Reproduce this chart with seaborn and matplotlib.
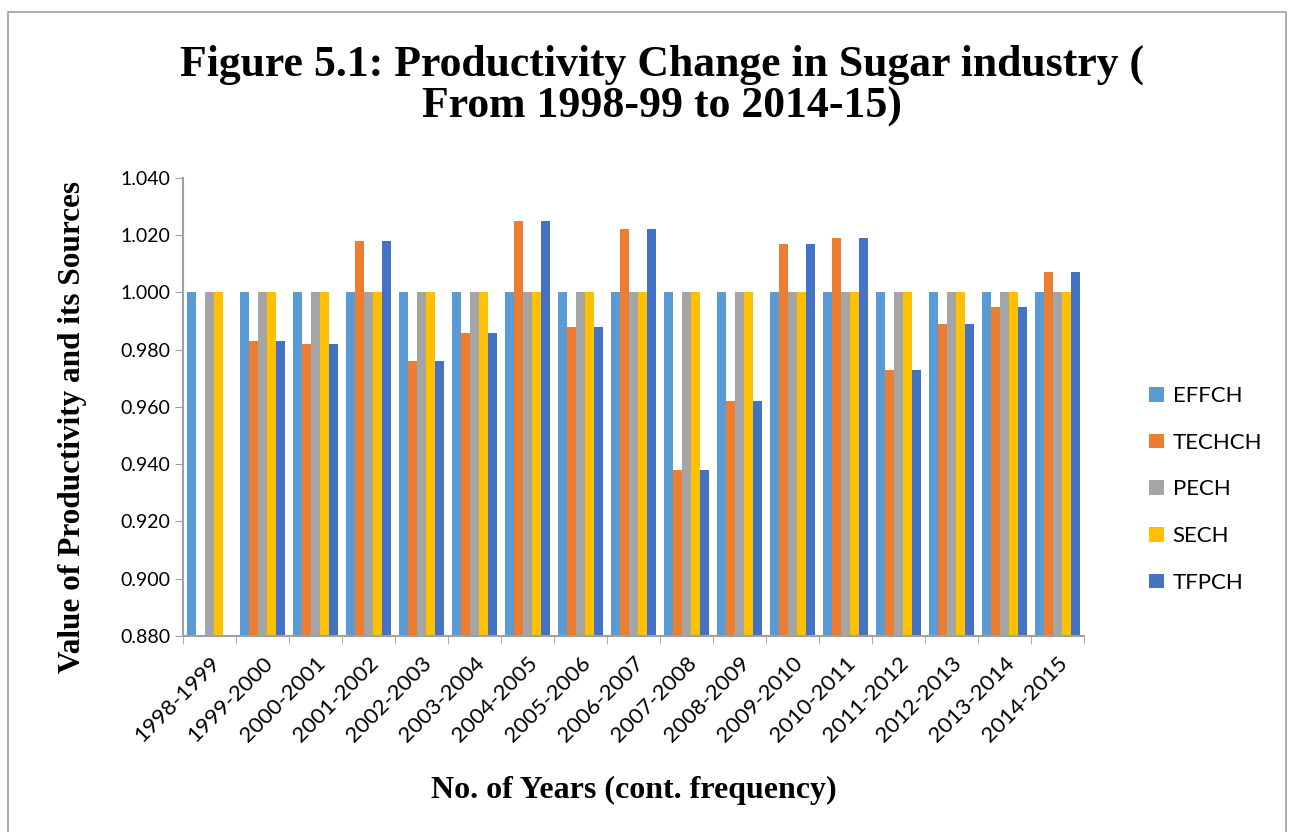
import matplotlib
matplotlib.use("Agg")
import matplotlib.pyplot as plt
import seaborn as sns
import numpy as np
import pandas as pd

years = ["1998-1999", "1999-2000", "2000-2001", "2001-2002", "2002-2003", "2003-2004",
         "2004-2005", "2005-2006", "2006-2007", "2007-2008", "2008-2009", "2009-2010",
         "2010-2011", "2011-2012", "2012-2013", "2013-2014", "2014-2015"]
effch = [1.000] * 17
techch = [np.nan, 0.983, 0.982, 1.018, 0.976, 0.986, 1.025, 0.988, 1.022, 0.938,
          0.962, 1.017, 1.019, 0.973, 0.989, 0.995, 1.007]
pech = [1.000] * 17
sech = [1.000] * 17
tfpch = [np.nan, 0.983, 0.982, 1.018, 0.976, 0.986, 1.025, 0.988, 1.022, 0.938,
         0.962, 1.017, 1.019, 0.973, 0.989, 0.995, 1.007]

series = ["EFFCH", "TECHCH", "PECH", "SECH", "TFPCH"]
colors = ["#5B9BD5", "#ED7D31", "#A5A5A5", "#FFC000", "#4472C4"]

df = pd.DataFrame({"year": years, "EFFCH": effch, "TECHCH": techch,
                   "PECH": pech, "SECH": sech, "TFPCH": tfpch})
long = df.melt(id_vars="year", var_name="index", value_name="value")

sns.set_style("white")
plt.rcParams["font.family"] = ["Lato", "DejaVu Sans"]
plt.rcParams["text.color"] = "black"
plt.rcParams["axes.labelcolor"] = "black"

fig = plt.figure(figsize=(12.92, 8.32), dpi=100)
ax = fig.add_axes([0.1416, 0.2356, 0.6975, 0.5505])

sns.barplot(data=long, x="year", y="value", hue="index", hue_order=series,
            palette=colors, width=0.84, ax=ax, saturation=1, errorbar=None,
            linewidth=0, edgecolor="none")

ax.set_ylim(0.88, 1.04)
ticks = np.arange(0.88, 1.0401, 0.02)
ax.set_yticks(ticks)
ax.set_yticklabels([f"{v:.3f}" for v in ticks], fontsize=14)
ax.set_xlim(-0.5, 16.5)
ax.set_xticks(np.arange(-0.5, 17, 1), minor=True)
ax.tick_params(axis="x", which="major", length=0, pad=12, labelcolor="black")
ax.tick_params(axis="x", which="minor", length=6, color="#A0A0A0", direction="out", bottom=True)
ax.tick_params(axis="y", length=6, color="#A0A0A0", direction="out", left=True, pad=3,
               labelcolor="black")
plt.setp(ax.get_xticklabels(), rotation=45, ha="right", rotation_mode="anchor", fontsize=16)

for s in ["top", "right"]:
    ax.spines[s].set_visible(False)
for s in ["left", "bottom"]:
    ax.spines[s].set_color("#A0A0A0")
    ax.spines[s].set_linewidth(1.5)

ax.set_xlabel("No. of Years (cont. frequency)", fontsize=23, fontweight="bold",
              family="Liberation Serif", labelpad=22)
ax.set_ylabel("Value of Productivity and its Sources", fontsize=22.5, fontweight="bold",
              family="Liberation Serif")
ax.yaxis.set_label_coords(-0.107, 0.456)

fig.suptitle("Figure 5.1: Productivity Change in Sugar industry (\nFrom 1998-99 to 2014-15)",
             fontsize=31.5, fontweight="bold", family="Liberation Serif", x=0.512, y=0.946,
             linespacing=1.05, color="black")

leg = ax.legend(loc="center left", bbox_to_anchor=(1.05, 0.32), frameon=False,
                fontsize=16, handlelength=0.65, handleheight=0.65, labelspacing=1.2,
                handletextpad=0.4)

fig.patches.append(plt.Rectangle((8 / 1292, -0.05), 1278 / 1292, 1.05 - 12 / 832,
                                 transform=fig.transFigure, fill=False,
                                 edgecolor="#A0A0A0", linewidth=1.2))

fig.savefig("out.png", dpi=100)
